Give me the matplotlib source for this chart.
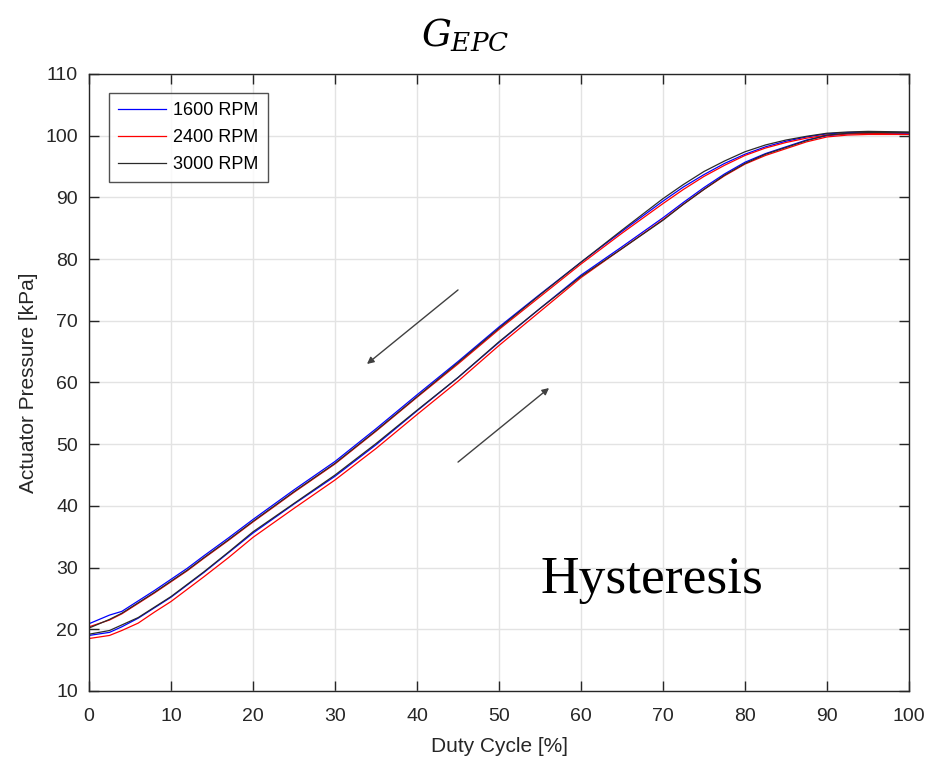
import matplotlib
matplotlib.use("Agg")
import matplotlib.pyplot as plt

# ---- data ----
duty = [0, 2.5, 4, 6, 8, 10, 12, 14, 17, 20, 25, 30, 35, 40, 45, 50, 55, 60, 65, 70,
        72.5, 75, 77.5, 80, 82.5, 85, 87.5, 90, 92.5, 95, 100]

# upper branch (decreasing sweep)
up_1600 = [20.9, 22.3, 22.9, 24.6, 26.3, 28.1, 29.9, 31.9, 34.8, 37.8, 42.6, 47.2, 52.5, 58.0, 63.4, 69.0, 74.3, 79.5, 84.5, 89.4,
           91.7, 93.7, 95.5, 97.0, 98.2, 99.1, 99.8, 100.3, 100.5, 100.6, 100.5]
up_2400 = [20.4, 21.5, 22.5, 24.2, 25.9, 27.7, 29.5, 31.5, 34.4, 37.4, 42.2, 46.8, 52.1, 57.6, 63.0, 68.6, 73.9, 79.2, 84.2, 89.0,
           91.3, 93.4, 95.2, 96.8, 98.0, 98.9, 99.6, 100.1, 100.3, 100.4, 100.2]
up_3000 = [20.2, 21.6, 22.6, 24.3, 26.0, 27.8, 29.6, 31.6, 34.5, 37.5, 42.3, 46.9, 52.2, 57.7, 63.2, 68.8, 74.2, 79.5, 84.7, 89.8,
           92.1, 94.2, 95.9, 97.4, 98.5, 99.3, 99.9, 100.4, 100.6, 100.7, 100.6]

# lower branch (increasing sweep)
lo_1600 = [19.0, 19.5, 20.4, 21.8, 23.5, 25.2, 27.2, 29.2, 32.4, 35.6, 40.3, 44.8, 49.9, 55.4, 60.8, 66.5, 72.0, 77.4, 82.0, 86.7,
           89.2, 91.6, 93.8, 95.7, 97.1, 98.2, 99.3, 100.0, 100.3, 100.4, 100.4]
lo_2400 = [18.5, 19.0, 19.8, 21.0, 22.8, 24.5, 26.5, 28.5, 31.6, 34.9, 39.6, 44.2, 49.3, 54.8, 60.2, 66.0, 71.5, 77.0, 81.7, 86.4,
           88.9, 91.3, 93.5, 95.4, 96.8, 97.9, 99.0, 99.8, 100.1, 100.2, 100.2]
lo_3000 = [19.2, 19.8, 20.7, 21.9, 23.6, 25.3, 27.3, 29.3, 32.5, 35.8, 40.4, 45.0, 50.1, 55.5, 60.8, 66.6, 72.0, 77.2, 81.7, 86.3,
           88.9, 91.3, 93.6, 95.5, 97.0, 98.1, 99.2, 100.1, 100.4, 100.5, 100.5]

labels = ["1600 RPM", "2400 RPM", "3000 RPM"]
colors = ["#0000ff", "#ff0000", "#2a2a2a"]

x_ticks = list(range(0, 101, 10))
y_ticks = list(range(10, 111, 10))

# annotation arrows (start -> end) in data coords
arrow_down = [(45.0, 75.0), (33.9, 63.0)]
arrow_up = [(45.0, 47.1), (56.1, 59.1)]
hyst_pos = (55.1, 25.9)

# ---- plot ----
plt.rcParams["font.family"] = ["Liberation Sans", "DejaVu Sans"]
plt.rcParams["mathtext.fontset"] = "dejavuserif"

fig = plt.figure(figsize=(9.31, 7.62), dpi=100)
ax = fig.add_axes([0.0956, 0.0932, 0.8808, 0.8097])

ups = [up_1600, up_2400, up_3000]
los = [lo_1600, lo_2400, lo_3000]
for up, lo, lab, c in zip(ups, los, labels, colors):
    ax.plot(duty, up, color=c, lw=0.9, label=lab)
    ax.plot(duty, lo, color=c, lw=0.9)

ax.set_xlim(0, 100)
ax.set_ylim(10, 110)
ax.set_xticks(x_ticks)
ax.set_yticks(y_ticks)
ax.grid(True, color="#e3e3e3", lw=1.0)
ax.set_axisbelow(True)
ax.tick_params(direction="in", length=7, width=1, colors="#262626", labelsize=14,
               top=True, right=True)
ax.tick_params(axis="x", pad=12)
ax.tick_params(axis="y", pad=8)
for s in ax.spines.values():
    s.set_color("#262626")
    s.set_linewidth(1.0)

ax.set_xlabel("Duty Cycle [%]", fontsize=15, color="#262626", labelpad=9)
ax.set_ylabel("Actuator Pressure [kPa]", fontsize=15, color="#262626", labelpad=5)

leg = ax.legend(loc="upper left", bbox_to_anchor=(0.0244, 0.969), fontsize=13,
                frameon=True, fancybox=False, edgecolor="#262626",
                handlelength=2.65, handletextpad=0.4, borderpad=0.5,
                labelspacing=0.55, borderaxespad=0)
leg.get_frame().set_linewidth(1.0)

for (s, e) in (arrow_down, arrow_up):
    ax.annotate("", xy=e, xytext=s,
                arrowprops=dict(arrowstyle="-|>", color="#404040", lw=1.0,
                                mutation_scale=10, shrinkA=0, shrinkB=0))

ax.text(hyst_pos[0], hyst_pos[1], "Hysteresis", fontsize=38.5,
        family=["Liberation Serif", "DejaVu Serif"], ha="left", va="baseline",
        color="black")

fig.text(0.5, 0.953, r"$G_{EPC}$", fontsize=27, ha="center", va="center")

fig.savefig("out.png", dpi=100)
